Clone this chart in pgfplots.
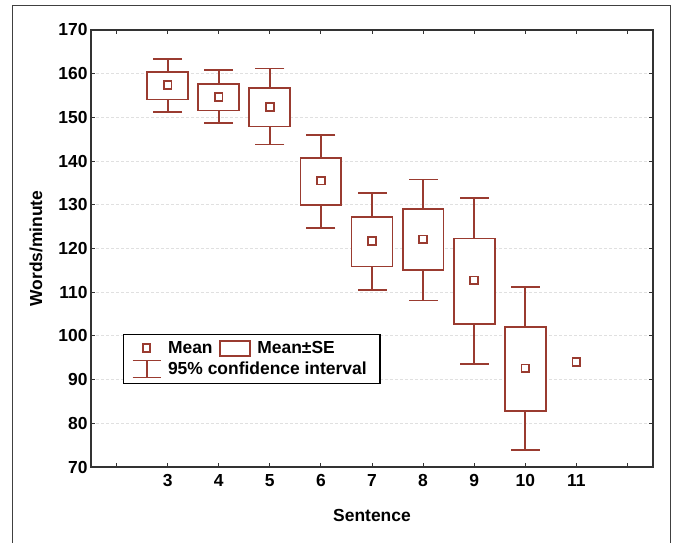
\documentclass[border=0pt]{standalone}
\usepackage{pgfplots}
\usepackage{pgfplotstable}
\pgfplotsset{compat=1.18}
\usepackage{fontspec}
\setmainfont{Liberation Sans}
\definecolor{br}{HTML}{9A3B30}
% x, mean, 95% CI lower, 95% CI upper
\pgfplotstableread{
x  y     lo    hi
3  157.4 151.3 163.3
4  154.7 148.7 160.9
5  152.4 143.8 161.2
6  135.5 124.7 146.0
7  121.7 110.5 132.8
8  122.1 108.1 135.8
9  112.7 93.6  131.6
10 92.6  73.9  111.1
}\citable
\pgfplotsset{
  sebox/.style={draw=br, fill=white, line width=1.8bp, forget plot},
  cap/.style={only marks, mark=-, mark size=14.5bp, br, line width=1.9bp, forget plot},
}
\begin{document}
\begin{tikzpicture}
\useasboundingbox (-91bp,-76bp) rectangle (586bp,467bp);
\draw[black!75, line width=0.8bp] (-79bp,462bp) rectangle (579bp,-95bp);
\begin{axis}[
  at={(0,0)}, anchor=south west,
  scale only axis, width=562bp, height=437bp,
  xmin=1.5, xmax=12.5, ymin=70, ymax=170,
  xtick={2,...,12}, xticklabels={,3,4,5,6,7,8,9,10,11,},
  ytick={70,80,...,170},
  tick align=inside, major tick length=4bp,
  tick style={black!80, line width=1bp},
  ymajorgrids, grid style={densely dashed, black!12, line width=0.8bp},
  axis line style={black!80, line width=1.4bp},
  font=\fontsize{17.5}{20}\selectfont\bfseries,
  /pgf/number format/assume math mode=true,
  xticklabel style={yshift=-4bp},
  xlabel={Sentence}, ylabel={Words/minute},
  xlabel style={at={(axis description cs:0.5,-0.11)}, anchor=center},
  ylabel style={at={(axis description cs:-0.098,0.5)}, anchor=center},
  legend columns=2,
  legend cell align=left,
  legend style={at={(0.057,0.304)}, anchor=north west, draw=black, line width=1.2bp,
    fill=white, font=\fontsize{17.5}{20}\selectfont\bfseries,
    inner xsep=8bp, inner ysep=5bp, row sep=3bp, column sep=5bp,
    nodes={inner xsep=1.5bp, inner ysep=1bp}},
]
% 95% confidence intervals: vertical lines and caps
\addplot[draw=none, mark=none, forget plot,
  error bars/.cd, y dir=both, y explicit, error mark=none,
  error bar style={br, line width=1.8bp}]
  table[x=x, y=y, y error plus expr=\thisrow{hi}-\thisrow{y},
        y error minus expr=\thisrow{y}-\thisrow{lo}] {\citable};
\addplot[cap] table[x=x, y=lo] {\citable};
\addplot[cap] table[x=x, y=hi] {\citable};
% Mean +- SE boxes
\addplot[sebox] coordinates {(2.6,154.1) (3.4,154.1) (3.4,160.4) (2.6,160.4)} -- cycle;
\addplot[sebox] coordinates {(3.6,151.6) (4.4,151.6) (4.4,157.7) (3.6,157.7)} -- cycle;
\addplot[sebox] coordinates {(4.6,147.9) (5.4,147.9) (5.4,156.8) (4.6,156.8)} -- cycle;
\addplot[sebox] coordinates {(5.6,129.9) (6.4,129.9) (6.4,140.8) (5.6,140.8)} -- cycle;
\addplot[sebox] coordinates {(6.6,115.9) (7.4,115.9) (7.4,127.2) (6.6,127.2)} -- cycle;
\addplot[sebox] coordinates {(7.6,115.0) (8.4,115.0) (8.4,129.0) (7.6,129.0)} -- cycle;
\addplot[sebox] coordinates {(8.6,102.8) (9.4,102.8) (9.4,122.3) (8.6,122.3)} -- cycle;
\addplot[sebox] coordinates {(9.6,82.9) (10.4,82.9) (10.4,102.1) (9.6,102.1)} -- cycle;
% means
\addplot[only marks, mark=square, mark size=3.8bp, br, line width=1.8bp, forget plot]
  coordinates {(3,157.4) (4,154.7) (5,152.4) (6,135.5) (7,121.7) (8,122.1) (9,112.7) (10,92.6) (11,94.0)};
\addlegendimage{legend image code/.code={\draw[br, line width=1.8bp] (10.2bp,-3.8bp) rectangle (17.8bp,3.8bp);}}
\addlegendentry{Mean}
\addlegendimage{legend image code/.code={\draw[br, line width=1.8bp] (0bp,-7.5bp) rectangle (30bp,7.5bp);}}
\addlegendentry{\makebox[113bp][l]{Mean±SE}}
\addlegendimage{legend image code/.code={\draw[br, line width=1.9bp] (0bp,-8.5bp)--(28bp,-8.5bp) (14bp,-8.5bp)--(14bp,8.5bp) (0bp,8.5bp)--(28bp,8.5bp);}}
\addlegendentry{\makebox[0pt][l]{95\% confidence interval}}
\end{axis}
\end{tikzpicture}
\end{document}
